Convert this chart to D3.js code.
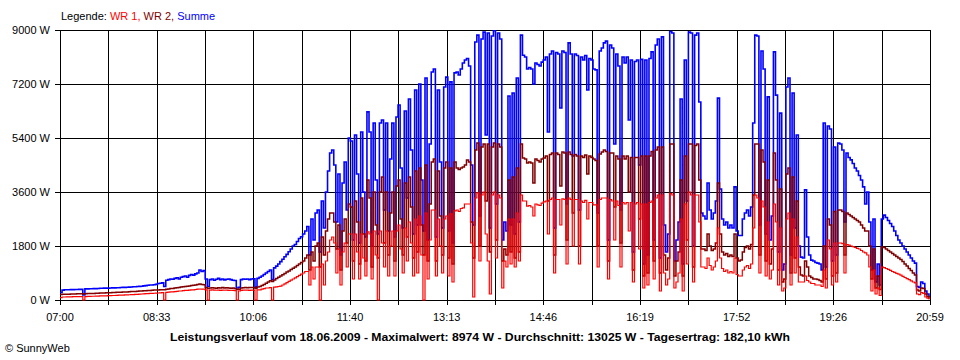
<!DOCTYPE html>
<html><head><meta charset="utf-8">
<script src="https://cdn.jsdelivr.net/npm/d3@7"></script>
<style>
body{margin:0;background:#fff;}
text{font-family:"Liberation Sans",Arial,sans-serif;}
</style>
</head><body><svg id="chart" width="960" height="360"></svg>
<script>
// ---- data ----
const stepMinutes = 2;          // sampling interval, samples start at 07:00
const dayMinutes = 839;          // 07:00 .. 20:59
const xTickLabels = ["07:00","08:33","10:06","11:40","13:13","14:46","16:19","17:52","19:26","20:59"];
const yTicks = [0,1800,3600,5400,7200,9000];
const yTickLabels = ["0 W","1800 W","3600 W","5400 W","7200 W","9000 W"];
const seriesNames = ["WR 1","WR 2","Summe"];
const seriesColors = ["#ff0000","#800000","#0000ff"];
const titleText = "Leistungsverlauf vom 18.06.2009 - Maximalwert: 8974 W - Durchschnitt: 13025 W - Tagesertrag: 182,10 kWh";

const summe = [
250,330,340,340,340,345,345,350,350,355,
355,170,370,370,375,375,380,380,385,390,
390,395,395,390,400,405,405,410,410,415,
420,420,425,430,435,440,440,450,455,460,
470,480,490,500,500,510,520,550,560,570,
450,660,680,700,690,720,740,700,760,780,
800,760,820,850,830,870,900,1000,950,980,
700,450,680,700,660,690,720,680,700,670,
690,700,680,660,650,400,420,680,700,690,
700,680,700,710,430,720,760,800,850,900,
950,1000,680,1070,1130,1200,1280,1360,1440,1520,
1610,1700,1800,1850,1950,2050,2110,2200,2300,2450,
1500,2700,2000,2900,3000,1600,3300,2400,3600,4300,
4900,5000,4500,2600,4200,1500,3900,4600,3000,5400,
5300,2000,5500,4200,1900,5600,3600,2100,6270,5600,
1800,5900,4000,2200,5900,6000,3000,5900,2300,4700,
5900,2100,6100,6500,4400,2400,6300,3400,6700,5000,
2200,7000,2500,7200,4000,2300,7400,2000,5200,7600,
7700,2100,7000,4600,2400,7100,7430,2300,7270,1900,
7570,7600,7500,7700,7900,8000,8050,7800,4500,2500,
8600,8830,2800,8700,8930,5500,8900,2400,8800,8974,
3200,8900,8700,2000,2600,2300,6800,2500,6900,2200,
7400,2600,8830,8160,8100,7700,7750,7700,7200,7900,
7850,7800,7930,8000,8100,5600,8200,8300,2400,8250,
8200,6400,8300,8250,3200,8570,8200,4800,8200,8150,
3000,8100,8000,8150,7000,8050,8000,7700,7670,2900,
8300,8400,8570,8630,2000,8500,8400,5200,8200,7800,
3000,8100,7900,8100,6000,8000,1600,7950,8000,4500,
8020,1200,8000,1500,8050,8270,2000,8500,8700,1400,
8770,2500,1600,2200,8950,8900,1300,2000,2600,6700,
1200,8000,3300,8930,8900,1800,8830,8900,6600,2900,
2800,2700,3900,3000,2700,2900,3300,6730,3700,2700,
2500,2600,2400,2500,2400,3770,2300,2150,2150,2700,
2900,3000,2800,3100,5900,8830,8800,2500,8300,7700,
2200,6770,2000,2800,8270,6830,1600,6230,1000,1200,
7100,7400,1500,6900,2400,5500,1800,1430,1400,3670,
2100,1500,1330,1300,1250,1230,1200,1000,5900,1100,
5800,5700,1300,5100,1500,5230,5200,5000,2600,4900,
4750,4670,4550,4400,4300,4150,4000,3770,3200,3600,
2600,1000,2700,600,1200,500,2700,2830,2750,2650,
2550,2450,2300,2150,2000,1900,1800,1700,1600,1500,
1400,1300,1230,450,420,600,550,300,200,80
];

const wr2 = [
180,190,190,195,195,200,200,200,205,205,
210,200,210,215,215,220,220,225,225,230,
230,235,240,240,245,250,250,255,260,260,
265,270,270,275,280,280,285,290,300,300,
310,310,320,320,325,330,330,335,340,345,
340,360,370,380,380,400,410,420,430,440,
450,460,470,480,490,500,520,533,520,510,
420,380,400,410,400,390,410,400,420,400,
410,400,390,400,380,350,360,400,410,420,
410,420,420,420,380,430,450,480,520,560,
600,640,620,670,720,760,800,840,880,930,
970,1020,1060,1100,1150,1200,1250,1300,1400,1500,
1000,1600,1300,1800,1900,1100,2100,1500,2300,2700,
2900,2900,2600,1700,2500,1000,2300,2700,1900,3200,
3100,1300,3300,2600,1200,3400,2200,1300,4000,3400,
1100,3600,2500,1400,3600,4100,1900,3600,1500,2900,
3600,1300,3800,4000,2700,1500,3900,2100,4100,3100,
1400,4300,1600,4400,2500,1500,4500,1300,3200,4600,
4700,1300,4300,2800,1500,4400,4600,1400,4400,1200,
4600,4400,4350,4400,4430,4500,4670,4600,2600,1400,
5000,5230,1800,5100,5200,3300,5200,1600,5100,5230,
2000,5200,5100,1300,1700,1500,4000,1600,4100,1400,
4400,1600,5200,4730,4700,4570,4600,4570,3900,4700,
4650,4600,4700,4730,4800,3300,4850,4900,1500,4900,
4850,3800,4930,4900,2000,4930,4850,2900,4850,4800,
1800,4800,4750,4830,4200,4800,4750,4700,4650,1800,
4870,4930,5000,4950,1300,4900,4900,3100,4800,4700,
1900,4800,4700,4800,3600,4750,1000,4750,4750,2700,
4800,800,4800,900,4800,4950,1300,5000,5100,900,
5100,1500,1000,1400,5200,5200,800,1300,1600,4000,
800,4800,2000,5200,5200,1100,5150,5200,4000,1700,
1700,1650,2200,1800,1650,1700,1900,3900,2200,1600,
1500,1550,1450,1500,1450,2200,1400,1300,1330,1600,
1750,1800,1700,1850,3500,5200,5200,1500,5000,4600,
1300,4000,1200,1700,4900,4000,1000,3700,600,700,
4200,4400,900,4100,1400,3300,1100,830,800,1300,
1100,800,750,700,700,680,650,600,1800,700,
2700,2500,800,2950,900,3000,3000,2950,1500,2900,
2850,2800,2750,2700,2650,2600,2500,2400,2300,2300,
1800,700,1700,400,800,350,1770,1750,1700,1650,
1600,1550,1500,1450,1400,1350,1280,1200,1130,1050,
980,900,830,330,300,400,380,200,120,40
];

const wr1 = [
80,100,100,105,105,105,110,110,110,115,
115,0,115,120,120,125,125,130,130,135,
135,140,140,145,145,150,150,155,160,160,
165,170,170,175,180,180,185,190,195,200,
205,210,215,220,220,225,230,233,240,245,
0,255,260,270,270,280,290,300,300,310,
320,320,330,340,340,350,360,367,360,360,
340,0,330,335,330,325,330,320,330,325,
330,320,325,320,310,0,300,320,330,330,
330,320,330,330,0,340,340,360,380,400,
400,410,0,430,440,450,460,500,540,580,
620,660,700,740,780,820,860,900,950,950,
500,1100,700,1100,1100,0,1200,500,1300,1600,
2000,2100,1900,900,1700,500,1600,1900,1100,2200,
2200,700,2200,1600,700,2200,1400,800,2270,2200,
700,2300,1500,0,2300,1900,1100,2300,800,1800,
2300,800,2300,2500,1700,900,2400,1300,2600,1900,
800,2700,900,2800,1500,0,2900,700,2000,3000,
3000,800,2700,1800,900,2700,2800,800,2870,600,
2970,3000,2950,3050,3070,3200,3200,3200,1900,100,
3400,3570,1300,3500,3600,2200,1300,200,3500,3600,
1400,3500,3400,400,1300,1100,2700,1200,2700,1100,
2900,1300,3500,3300,3300,3130,3150,3100,2800,3200,
3170,3150,3230,3270,3300,2200,3350,3400,900,3350,
3350,2500,3370,3350,1200,3400,3350,1800,3350,3350,
1200,3300,3250,3320,2700,3250,3250,3170,3170,1100,
3350,3400,3400,3400,700,3350,3300,2000,3300,3150,
1100,3250,3200,3250,2300,3250,600,3200,3250,1700,
3200,400,3200,500,3250,3300,700,3400,3500,300,
3500,900,500,700,3550,3500,400,600,900,2700,
300,3200,1200,3600,3500,600,3500,3500,2600,1100,
1100,1050,1400,1150,1000,1100,1300,2400,1400,1050,
950,1000,900,950,900,1400,850,800,800,1000,
1100,1150,1050,1200,2400,3500,3400,900,3300,3100,
800,2600,700,1000,3200,2600,500,2400,300,400,
2700,2900,500,2700,900,2100,600,600,600,800,
650,600,550,550,500,500,500,450,1000,400,
2000,1700,500,1900,600,1900,1900,1880,900,1850,
1830,1800,1780,1750,1720,1700,1650,1600,1570,1500,
1100,300,1000,200,400,150,1100,1080,1050,1020,
990,950,920,890,860,830,790,750,710,680,
640,600,570,200,180,250,220,100,60,20
];

// ---- chart ----
const svg = d3.select("#chart");
svg.append("rect").attr("width",960).attr("height",360).attr("fill","#fff");
const L = 60, R = 930, T = 30, B = 300;
const x = d3.scaleLinear().domain([0, dayMinutes]).range([L, R]);
const y = d3.scaleLinear().domain([0, 9000]).range([B, T]);
const crisp = v => Math.round(v) + 0.5;

// vertical grid (every half label interval) + bottom ticks
const nSub = (xTickLabels.length - 1) * 2;
const gridMinutes = d3.range(nSub + 1).map(k => k * dayMinutes / nSub);
const g = svg.append("g");
g.selectAll("line.vg").data(gridMinutes).enter().append("line")
  .attr("x1", d => crisp(x(d))).attr("x2", d => crisp(x(d)))
  .attr("y1", T).attr("y2", B + 5)
  .attr("stroke", "#000").attr("stroke-width", 1);
// horizontal grid + left ticks
g.selectAll("line.hg").data(yTicks).enter().append("line")
  .attr("x1", L - 5).attr("x2", R + 0.5)
  .attr("y1", d => crisp(y(d))).attr("y2", d => crisp(y(d)))
  .attr("stroke", "#000").attr("stroke-width", 1);

// y labels
svg.selectAll("text.yl").data(yTicks).enter().append("text")
  .attr("x", 50).attr("y", d => y(d) + 4)
  .attr("text-anchor", "end").attr("font-size", 11).attr("fill", "#000")
  .text((d, i) => yTickLabels[i]);
// x labels
svg.selectAll("text.xl").data(xTickLabels).enter().append("text")
  .attr("x", (d, i) => x(i * dayMinutes / (xTickLabels.length - 1)))
  .attr("y", 321).attr("text-anchor", "middle").attr("font-size", 11).attr("fill", "#000")
  .text(d => d);

// series
const line = d3.line()
  .x((d, i) => x(i * stepMinutes))
  .y(d => y(d))
  .curve(d3.curveStepAfter);
const plotG = svg.append("g");
[[summe, 2, 1.6], [wr2, 1, 1.5], [wr1, 0, 1.2]].forEach(([vals, ci, sw]) => {
  plotG.append("path").datum(vals).attr("d", line)
    .attr("fill", "none").attr("stroke", seriesColors[ci]).attr("stroke-width", sw);
});

// legend
const leg = svg.append("text").attr("x", 61).attr("y", 20).attr("font-size", 11);
leg.append("tspan").attr("fill", "#000").text("Legende: ");
leg.append("tspan").attr("fill", seriesColors[0]).text(seriesNames[0] + ", ");
leg.append("tspan").attr("fill", seriesColors[1]).text(seriesNames[1] + ", ");
leg.append("tspan").attr("fill", seriesColors[2]).text(seriesNames[2]);

// title
svg.append("text").attr("x", 170).attr("y", 341).attr("font-size", 11.5)
  .attr("font-weight", "bold").attr("fill", "#000")
  .attr("textLength", 620).attr("lengthAdjust", "spacingAndGlyphs")
  .text(titleText);
// copyright
svg.append("text").attr("x", 5).attr("y", 352).attr("font-size", 11).attr("fill", "#000")
  .text("\u00A9 SunnyWeb");
</script>
</body></html>
